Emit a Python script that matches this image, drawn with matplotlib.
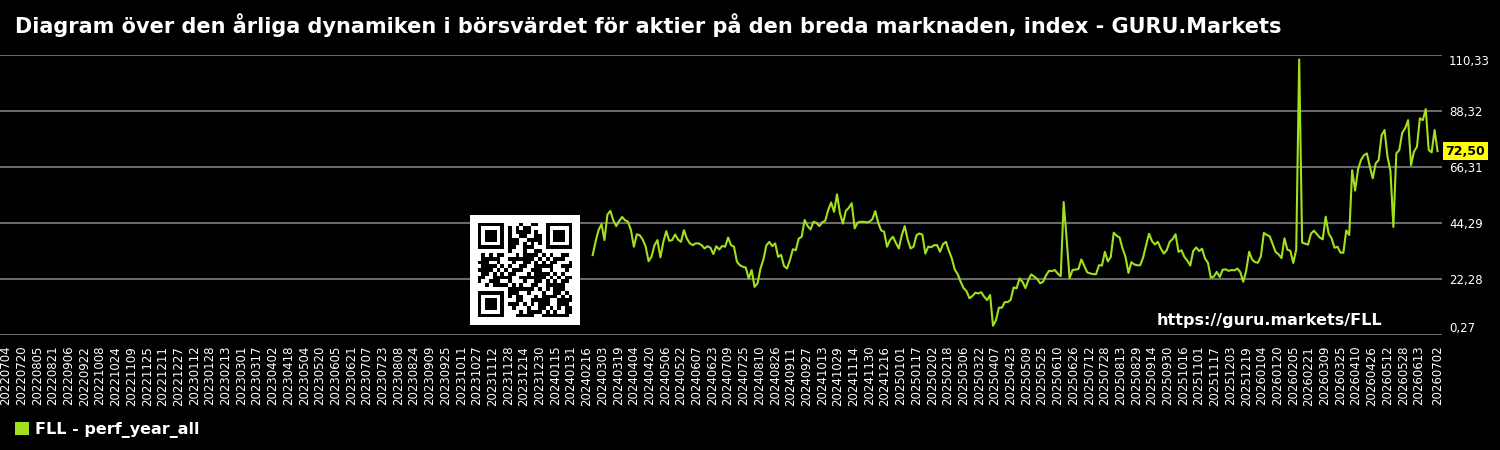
import numpy as np
import pandas as pd
import matplotlib
matplotlib.use("Agg")
import matplotlib.pyplot as plt
import matplotlib.transforms as mtransforms
from matplotlib.patches import Patch, Rectangle

# Chart text
title = "Diagram över den årliga dynamiken i börsvärdet för aktier på den breda marknaden, index - GURU.Markets"
series_name = "FLL - perf_year_all"
watermark = "https://guru.markets/FLL"

# y ticks (right axis)
y_ticks = [0.27, 22.28, 44.29, 66.31, 88.32, 110.33]

# x axis range and ticks
x_start = "2022-07-04"
x_end = "2026-07-02"

# series values (one point every 3 days up to the last date)
perf_year_all = [
    31.6, 37.0, 41.4, 43.8, 37.5, 47.5, 49.0, 45.3, 43.0, 45.0,
    46.6, 45.3, 44.7, 41.4, 34.9, 39.8, 39.4, 37.7, 34.9, 29.2,
    31.0, 35.5, 37.5, 30.7, 36.8, 41.0, 37.2, 37.5, 39.7, 37.7,
    36.8, 41.4, 38.1, 36.2, 35.5, 36.2, 36.2, 35.5, 34.2, 35.1,
    34.5, 32.0, 35.1, 33.8, 35.2, 34.9, 38.5, 35.5, 34.9, 29.0,
    27.6, 27.0, 26.7, 22.4, 25.7, 19.1, 20.5, 26.3, 29.9, 35.4,
    36.8, 35.1, 36.2, 30.9, 31.7, 27.3, 26.3, 29.6, 33.9, 33.5,
    38.1, 38.8, 45.4, 43.1, 41.7, 44.7, 44.3, 43.0, 44.5, 45.1,
    49.3, 52.3, 48.6, 55.5, 48.0, 44.0, 49.0, 50.2, 52.0, 42.1,
    44.4, 44.7, 44.7, 44.5, 44.7, 45.7, 48.9, 44.3, 41.3, 40.8,
    34.9, 37.5, 38.8, 36.4, 34.2, 39.4, 43.0, 37.7, 34.2, 34.9,
    39.4, 40.1, 39.6, 32.2, 34.9, 34.7, 35.5, 35.5, 32.9, 35.9,
    36.8, 33.3, 30.3, 25.9, 24.1, 21.1, 18.6, 17.4, 14.6, 15.5,
    16.8, 16.5, 17.0, 15.2, 13.9, 15.9, 3.8, 6.0, 10.9, 10.9,
    13.1, 13.1, 14.0, 18.9, 18.5, 22.4, 21.1, 18.6, 21.8, 24.0,
    23.1, 22.2, 20.5, 21.1, 23.6, 25.4, 25.3, 25.7, 24.3, 23.3,
    52.5, 38.0, 22.5, 25.7, 25.9, 26.1, 29.9, 27.3, 24.8, 24.4,
    24.1, 24.1, 27.6, 27.5, 32.9, 29.1, 30.9, 40.4, 39.2, 38.5,
    34.2, 30.9, 24.6, 28.8, 27.9, 27.6, 27.6, 30.7, 35.5, 40.0,
    37.1, 35.8, 36.8, 34.2, 32.2, 33.5, 36.8, 37.9, 39.8, 32.9,
    33.5, 30.9, 29.4, 27.5, 33.2, 34.6, 33.2, 34.1, 30.3, 28.6,
    22.7, 23.1, 25.0, 23.0, 25.8, 26.0, 25.4, 25.7, 25.6, 26.3,
    24.9, 21.1, 25.4, 32.9, 29.9, 28.8, 28.6, 31.2, 40.3, 39.5,
    39.0, 35.9, 32.8, 31.9, 30.4, 38.2, 33.7, 33.3, 28.5, 33.8,
    108.6, 36.5, 36.1, 35.7, 40.0, 41.2, 39.9, 38.5, 37.8, 46.7,
    40.1, 38.2, 34.5, 34.9, 32.6, 32.5, 41.3, 39.5, 65.0, 57.0,
    65.4, 69.0, 70.9, 71.6, 66.4, 61.8, 67.7, 69.0, 78.8, 80.8,
    70.3, 64.7, 42.7, 71.6, 72.9, 79.7, 81.5, 84.7, 67.0, 72.3,
    74.2, 85.4, 84.7, 89.0, 73.0, 72.0, 80.8, 72.5,
]
last_value = 72.50

dates = pd.date_range(end=x_end, periods=len(perf_year_all), freq="3D")

line_color = "#a2e01e"
bg = "black"

fig = plt.figure(figsize=(15, 4.5), dpi=100, facecolor=bg)
ax = fig.add_axes([0.0, 0.2562, 0.9613, 0.6216], facecolor=bg)

ax.plot(dates, perf_year_all, color=line_color, lw=1.5, zorder=3)

ax.set_ylim(y_ticks[0], y_ticks[-1])
ax.set_xlim(pd.Timestamp(x_start) - pd.Timedelta(days=6),
            pd.Timestamp(x_end) + pd.Timedelta(days=4.5))

# right-hand y axis with comma decimals
ax.yaxis.tick_right()
ax.set_yticks(y_ticks)
ax.set_yticklabels([f"{v:.2f}".replace(".", ",") for v in y_ticks])
ax.tick_params(axis="y", length=0, pad=5, labelsize=8.5, colors="white")
ylabels = ax.get_yticklabels()
ylabels[0].set_va("bottom")
ylabels[-1].set_va("top")
ylabels[-1].set_y(y_ticks[-1])
ax.grid(axis="y", color="#6a6a6a", lw=1.5)
ax.set_axisbelow(True)

# x ticks every 16 days plus the last date
xt = list(pd.date_range(x_start, periods=91, freq="16D")) + [pd.Timestamp(x_end)]
ax.set_xticks(xt)
ax.set_xticklabels([d.strftime("%Y%m%d") for d in xt], rotation=90)
ax.tick_params(axis="x", length=0, pad=8, labelsize=8.5, colors="white")

for s in ax.spines.values():
    s.set_visible(False)

# last value tag
trans = mtransforms.blended_transform_factory(ax.transAxes, ax.transData)
ax.text(1.0025, last_value, f"{last_value:.2f}".replace(".", ","), transform=trans,
        ha="left", va="center", fontsize=9, fontweight="bold", color="black",
        bbox=dict(facecolor="#ffff00", edgecolor="none", pad=2.0), clip_on=False)

# watermark
fig.text(1382 / 1500, 1 - 320 / 450, watermark, ha="right", va="center",
         fontsize=11.5, fontweight="bold", color="white")

# title
fig.text(15 / 1500, 1 - 25 / 450, title, ha="left", va="center",
         fontsize=15, fontweight="bold", color="white")

# legend
fig.legend(handles=[Patch(facecolor=line_color, edgecolor="none")], labels=[series_name],
           loc="center left", bbox_to_anchor=(15 / 1500, 1 - 430 / 450),
           frameon=False, borderpad=0, borderaxespad=0, handlelength=0.9,
           handleheight=0.9, handletextpad=0.35,
           prop={"size": 11.5, "weight": "bold"}, labelcolor="white")

# QR-like badge
qr = fig.add_axes([470 / 1500, 1 - 325 / 450, 110 / 1500, 110 / 450])
qr.set_xlim(0, 29)
qr.set_ylim(29, 0)
qr.axis("off")
qr.add_patch(Rectangle((0, 0), 29, 29, facecolor="white", edgecolor="none"))
bits = np.unpackbits(np.frombuffer((watermark * 8).encode(), dtype=np.uint8))
k = 0
for r in range(2, 27):
    for c in range(2, 27):
        in_finder = (r < 10 and c < 10) or (r < 10 and c > 18) or (r > 18 and c < 10)
        if in_finder:
            continue
        if bits[k % len(bits)]:
            qr.add_patch(Rectangle((c, r), 1, 1, facecolor="black", edgecolor="none"))
        k += 3
for (fx, fy) in [(2, 2), (20, 2), (2, 20)]:
    qr.add_patch(Rectangle((fx, fy), 7, 7, facecolor="black", edgecolor="none"))
    qr.add_patch(Rectangle((fx + 1, fy + 1), 5, 5, facecolor="white", edgecolor="none"))
    qr.add_patch(Rectangle((fx + 2, fy + 2), 3, 3, facecolor="black", edgecolor="none"))

fig.savefig("out.png", dpi=100, facecolor=bg)
